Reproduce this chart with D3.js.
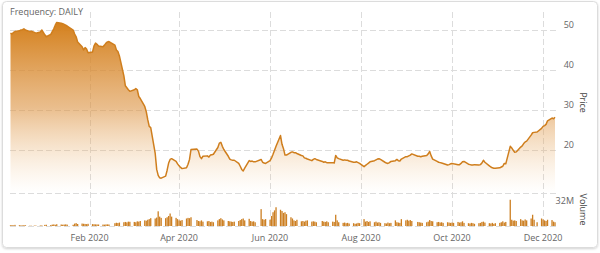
<!DOCTYPE html>
<html>
<head>
<meta charset="utf-8">
<script src="https://cdn.jsdelivr.net/npm/d3@7"></script>
<style>
  body { margin: 0; background: #fff; }
  svg { display: block; font-family: "Open Sans", sans-serif; }
</style>
</head>
<body>
<svg id="chart" width="600" height="253"></svg>
<script>
// trading days run from startDate to endDate, weekends and market holidays skipped
var startDate = "2019-12-10";
var endDate = "2020-12-09";
var holidays = ["2019-12-25", "2020-01-01", "2020-01-20", "2020-02-17", "2020-04-10",
                "2020-05-25", "2020-07-03", "2020-09-07", "2020-11-26"];

// daily close, one line per month
var closePrices = [
  49.2, 49.0, 49.4, 49.6, 49.8, 50.0, 50.1, 50.3, 50.0, 49.6, 49.7, 49.4, 49.2, 49.5, 50.0,
  48.8, 48.3, 48.9, 49.6, 50.3, 51.2, 51.9, 51.7, 51.6, 51.4, 51.2, 51.0, 50.0, 49.0, 48.3, 47.0, 45.8, 45.0, 45.6, 45.2, 44.3,
  44.5, 46.0, 46.7, 46.4, 46.0, 45.8, 46.2, 46.7, 47.0, 47.1, 46.2, 45.0, 44.6, 43.5, 38.5, 36.0, 35.5, 35.0, 34.6,
  35.0, 35.3, 35.0, 33.3, 32.8, 30.8, 29.5, 27.5, 25.8, 25.5, 19.0, 15.0, 13.5, 12.9, 12.8, 13.3, 14.8, 16.6, 17.5, 17.7, 17.0, 16.4,
  15.9, 15.5, 15.2, 15.4, 16.3, 17.5, 20.0, 20.1, 19.6, 18.2, 17.7, 18.3, 18.4, 18.1, 18.6, 18.7, 18.8, 20.5, 21.6, 21.8, 20.8,
  20.0, 18.3, 17.6, 17.4, 17.3, 17.3, 16.5, 15.8, 15.0, 14.6, 15.3, 17.2, 17.0, 17.1, 16.9, 16.9, 17.5, 16.8, 16.6, 16.5,
  17.2, 17.9, 18.8, 19.8, 20.8, 23.5, 21.3, 20.2, 18.6, 18.6, 19.3, 19.4, 19.2, 19.2, 19.0, 18.5, 18.4, 17.9, 17.8, 17.6, 17.2, 17.5,
  17.7, 17.5, 17.0, 16.8, 16.9, 16.7, 16.7, 16.7, 16.6, 18.5, 17.9, 17.7, 17.3, 17.4, 17.3, 17.3, 17.1, 16.8, 16.8, 16.9, 16.7, 16.5,
  15.7, 16.0, 16.3, 16.6, 16.9, 17.2, 17.4, 17.6, 17.7, 17.5, 16.8, 16.6, 16.5, 16.7, 17.0, 17.2, 17.5, 17.2, 17.1, 17.6, 18.2,
  18.2, 18.4, 18.6, 18.9, 18.3, 18.3, 18.2, 18.3, 18.5, 18.9, 19.5, 18.4, 17.6, 17.0, 16.8, 16.7, 16.6, 16.5, 16.1, 16.2, 16.4,
  16.5, 16.4, 16.2, 16.2, 16.5, 16.9, 17.0, 16.3, 16.2, 16.1, 16.1, 16.2, 16.1, 16.2, 16.6, 17.3, 16.8, 15.9, 15.6, 15.4, 15.3, 15.3,
  15.4, 15.6, 15.8, 16.5, 16.4, 20.8, 20.4, 19.8, 19.3, 19.4, 20.6, 20.9, 21.5, 21.9, 22.1, 23.6, 24.2, 24.3, 24.4, 25.3,
  25.8, 26.0, 26.3, 27.2, 27.9, 27.7, 28.1
];

// daily volume in millions, one line per month
var volumes = [
  1.2, 1.5, 1.0, 1.8, 1.3, 1.1, 0.9, 1.4, 1.2, 0.5, 0.4, 0.6, 0.7, 0.8, 0.9,
  1.8, 2.0, 1.5, 2.2, 2.5, 2.0, 2.8, 2.4, 2.1, 2.3, 2.6, 2.2, 2.0, 3.8, 4.6, 3.2, 3.9, 3.6, 3.3, 3.0, 3.5,
  3.0, 2.8, 2.6, 2.5, 2.4, 2.3, 2.2, 2.5, 2.6, 2.4, 4.5, 5.2, 4.8, 5.5, 6.0, 6.5, 5.8, 7.0, 6.8,
  6.5, 6.0, 7.5, 7.0, 8.0, 9.0, 8.5, 10.0, 11.0, 12.5, 12.0, 13.5, 23.5, 15.0, 13.0, 12.5, 14.0, 16.0, 20.0, 15.0, 13.0, 11.0,
  9.0, 8.5, 9.5, 12.0, 13.0, 12.5, 14.0, 9.5, 8.0, 7.5, 9.0, 7.0, 7.5, 8.0, 6.5, 7.0, 6.0, 9.0, 11.0, 12.5, 10.5,
  9.0, 8.0, 7.5, 7.0, 6.5, 7.0, 8.0, 9.5, 11.0, 12.0, 9.0, 11.5, 8.0, 7.0, 7.5, 6.0, 27.0, 11.0, 10.0, 11.0,
  10.0, 16.0, 22.0, 25.0, 30.0, 26.0, 24.0, 21.0, 22.0, 19.0, 14.0, 12.0, 9.0, 8.0, 10.0, 7.5, 8.0, 7.0, 8.5, 9.0, 7.0, 7.5,
  7.0, 6.0, 8.0, 7.0, 6.5, 7.5, 6.0, 7.0, 6.5, 18.0, 9.0, 6.0, 5.0, 5.5, 4.5, 5.0, 4.0, 4.5, 3.5, 4.0, 5.0, 4.5,
  11.0, 7.0, 8.0, 6.5, 7.5, 6.0, 7.0, 5.5, 6.0, 5.0, 4.5, 4.0, 5.5, 4.5, 5.0, 9.0, 6.0, 5.5, 5.0, 11.0, 9.0,
  10.0, 8.5, 9.5, 8.0, 6.5, 6.0, 5.5, 5.0, 6.0, 7.0, 9.5, 8.0, 7.5, 6.0, 6.5, 5.5, 6.0, 5.0, 6.0, 5.5, 5.0,
  5.5, 5.0, 6.5, 5.5, 6.0, 7.5, 5.0, 4.5, 4.0, 5.0, 4.5, 3.5, 4.5, 5.0, 6.5, 7.0, 5.5, 4.5, 4.0, 5.0, 3.5, 4.5,
  5.0, 6.0, 7.5, 5.5, 6.5, 42.0, 10.0, 8.5, 9.0, 8.0, 11.0, 9.0, 8.5, 10.5, 9.0, 12.0, 18.0, 10.0, 6.0, 12.0,
  10.5, 9.0, 8.0, 10.0, 9.5, 7.0, 6.0
];

var priceTicks = [20, 30, 40, 50];
var volumeTicks = [32];
var dateTicks = ["2020-02-01", "2020-04-01", "2020-06-01", "2020-08-01", "2020-10-01", "2020-12-01"];

var parse = d3.timeParse("%Y-%m-%d");
var fmt = d3.timeFormat("%Y-%m-%d");

var days = d3.timeDay.range(parse(startDate), d3.timeDay.offset(parse(endDate), 1))
  .filter(function (d) {
    return d.getDay() !== 0 && d.getDay() !== 6 && holidays.indexOf(fmt(d)) < 0;
  });
if (days.length !== closePrices.length || days.length !== volumes.length) {
  console.log("length mismatch", days.length, closePrices.length, volumes.length);
}
var data = days.map(function (d, i) {
  return { date: d, close: closePrices[i], volume: volumes[i] };
}).filter(function (d) { return d.close != null; });

var W = 600, H = 253;
var left = 10.5, right = 555;
var priceTop = 12, priceBottom = 193, volTop = 193, volBottom = 226;

var svg = d3.select("#chart");
var defs = svg.append("defs");

var shadow = defs.append("filter").attr("id", "shadow")
  .attr("x", "-5%").attr("y", "-5%").attr("width", "110%").attr("height", "115%");
shadow.append("feDropShadow").attr("dx", 0).attr("dy", 1).attr("stdDeviation", 1)
  .attr("flood-color", "#000").attr("flood-opacity", 0.18);

var grad = defs.append("linearGradient").attr("id", "priceFill")
  .attr("gradientUnits", "userSpaceOnUse")
  .attr("x1", 0).attr("y1", priceTop + 10).attr("x2", 0).attr("y2", priceBottom);
grad.append("stop").attr("offset", 0).attr("stop-color", "#d4801c").attr("stop-opacity", 1);
grad.append("stop").attr("offset", 0.5).attr("stop-color", "#dc9240").attr("stop-opacity", 0.6);
grad.append("stop").attr("offset", 1).attr("stop-color", "#f2c894").attr("stop-opacity", 0);

// card
svg.append("rect")
  .attr("x", 2.5).attr("y", 1.5).attr("width", W - 5).attr("height", H - 7)
  .attr("rx", 4).attr("fill", "#fff").attr("stroke", "#dcdcdc")
  .attr("filter", "url(#shadow)");

var x = d3.scaleTime().domain([days[0], days[days.length - 1]]).range([left, right]);
var yPrice = d3.scaleLinear().domain([20, 50]).range([149.5, 30]);
var yVol = d3.scaleLinear().domain([0, 32]).range([volBottom, 206]);

var grid = svg.append("g").attr("stroke", "#dcdcdc").attr("stroke-dasharray", "6,3")
  .attr("shape-rendering", "crispEdges");

grid.selectAll(".v").data(dateTicks).enter().append("line")
  .attr("x1", function (d) { return Math.round(x(parse(d))) + 0.5; })
  .attr("x2", function (d) { return Math.round(x(parse(d))) + 0.5; })
  .attr("y1", priceTop).attr("y2", volBottom + 2);

grid.selectAll(".h").data(priceTicks).enter().append("line")
  .attr("x1", 10).attr("x2", 558)
  .attr("y1", function (d) { return Math.round(yPrice(d)) + 0.5; })
  .attr("y2", function (d) { return Math.round(yPrice(d)) + 0.5; });

grid.selectAll(".p").data([volTop, volBottom]).enter().append("line")
  .attr("x1", 10).attr("x2", 558)
  .attr("y1", function (d) { return d + 0.5; })
  .attr("y2", function (d) { return d + 0.5; });

// price area + line
var area = d3.area()
  .x(function (d) { return x(d.date); })
  .y0(priceBottom)
  .y1(function (d) { return yPrice(d.close); });

var line = d3.line()
  .x(function (d) { return x(d.date); })
  .y(function (d) { return yPrice(d.close); });

svg.append("path").datum(data).attr("d", area).attr("fill", "url(#priceFill)");
svg.append("path").datum(data).attr("d", line)
  .attr("fill", "none").attr("stroke", "#cf7e1d").attr("stroke-width", 1.5)
  .attr("stroke-linejoin", "round");

// volume bars
svg.append("g").selectAll("rect").data(data).enter().append("rect")
  .attr("x", function (d) { return x(d.date) - 0.65; })
  .attr("width", 1.3)
  .attr("y", function (d) { return yVol(d.volume); })
  .attr("height", function (d) { return volBottom - yVol(d.volume); })
  .attr("fill", "#cc7f22");

// labels
var textColor = "#666";

svg.append("text").attr("x", 10).attr("y", 15)
  .attr("font-size", 9).attr("fill", textColor).text("Frequency: DAILY");

svg.selectAll(".xl").data(dateTicks).enter().append("text")
  .attr("x", function (d) { return x(parse(d)); })
  .attr("y", 241).attr("text-anchor", "middle")
  .attr("font-size", 9).attr("fill", textColor)
  .text(function (d) { return d3.timeFormat("%b %Y")(parse(d)); });

svg.selectAll(".yl").data(priceTicks).enter().append("text")
  .attr("x", 574).attr("y", function (d) { return yPrice(d) - 2; })
  .attr("text-anchor", "end").attr("font-size", 9).attr("fill", textColor)
  .text(function (d) { return d; });

svg.selectAll(".vl").data(volumeTicks).enter().append("text")
  .attr("x", 574).attr("y", function (d) { return yVol(d) - 2; })
  .attr("text-anchor", "end").attr("font-size", 9).attr("fill", textColor)
  .text(function (d) { return d + "M"; });

svg.append("text")
  .attr("transform", "translate(583," + (priceTop + priceBottom) / 2 + ") rotate(90)")
  .attr("text-anchor", "middle").attr("dy", "0.35em")
  .attr("font-size", 9).attr("fill", "#444").text("Price");

svg.append("text")
  .attr("transform", "translate(583," + (volTop + volBottom) / 2 + ") rotate(90)")
  .attr("text-anchor", "middle").attr("dy", "0.35em")
  .attr("font-size", 9).attr("fill", "#444").text("Volume");
</script>
</body>
</html>
